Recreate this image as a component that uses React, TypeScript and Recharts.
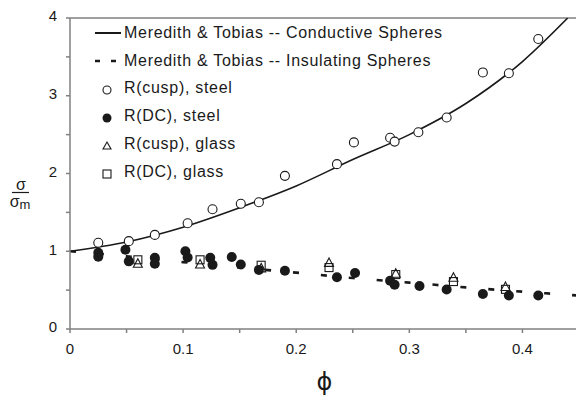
import { ComposedChart, Label, Legend, Line, ReferenceLine, Scatter, XAxis, YAxis } from "recharts"

// Meredith & Tobias curves
const FIT_PHI = [0, 0.05, 0.1, 0.15, 0.2, 0.25, 0.3, 0.35, 0.4, 0.44]
const CONDUCTIVE = [1.0, 1.12, 1.31, 1.56, 1.84, 2.18, 2.5, 2.9, 3.44, 4.0]
const INSULATING_PHI = [0, 0.05, 0.1, 0.15, 0.2, 0.25, 0.3, 0.35, 0.4, 0.45]
const INSULATING = [1.0, 0.935, 0.86, 0.79, 0.725, 0.655, 0.597, 0.535, 0.48, 0.43]

// measured points
const CUSP_STEEL_PHI = [0.025, 0.052, 0.075, 0.104, 0.126, 0.151, 0.167, 0.19, 0.236, 0.251, 0.283, 0.287, 0.308, 0.333, 0.365, 0.388, 0.414]
const CUSP_STEEL = [1.11, 1.13, 1.21, 1.36, 1.54, 1.61, 1.63, 1.97, 2.12, 2.4, 2.46, 2.41, 2.53, 2.72, 3.3, 3.29, 3.73]

const DC_STEEL_PHI = [0.025, 0.025, 0.049, 0.052, 0.075, 0.075, 0.102, 0.104, 0.124, 0.126, 0.143, 0.151, 0.167, 0.19, 0.236, 0.252, 0.283, 0.287, 0.309, 0.333, 0.365, 0.388, 0.414]
const DC_STEEL = [0.98, 0.93, 1.02, 0.87, 0.915, 0.84, 1.0, 0.92, 0.915, 0.825, 0.925, 0.83, 0.76, 0.75, 0.665, 0.72, 0.62, 0.57, 0.553, 0.508, 0.45, 0.43, 0.43]

const GLASS_PHI = [0.06, 0.115, 0.169, 0.229, 0.288, 0.339, 0.385]
const CUSP_GLASS = [0.84, 0.83, 0.78, 0.85, 0.71, 0.66, 0.54]
const DC_GLASS = [0.89, 0.89, 0.82, 0.79, 0.7, 0.61, 0.51]

const X_TICKS = [0, 0.05, 0.1, 0.15, 0.2, 0.25, 0.3, 0.35, 0.4, 0.45]
const Y_TICKS = [0, 0.5, 1, 1.5, 2, 2.5, 3, 3.5, 4]

const LEGEND_LABELS = [
    "Meredith & Tobias -- Conductive Spheres",
    "Meredith & Tobias -- Insulating Spheres",
    "R(cusp), steel",
    "R(DC), steel",
    "R(cusp), glass",
    "R(DC), glass",
]

const pairs = (xs: number[], ys: number[]) => xs.map((x, i) => ({ x, y: ys[i] }))

const FONT = "'Liberation Sans', Arial, sans-serif"
const INK = "#1a1a1a"
const AXIS = "#808080"

const OpenCircle = (p: any) => <circle cx={p.cx} cy={p.cy} r={4.5} fill="#fff" stroke={INK} strokeWidth={1.1} />
const FilledCircle = (p: any) => <circle cx={p.cx} cy={p.cy} r={5} fill={INK} />
const Triangle = (p: any) => (
    <path d={`M${p.cx},${p.cy - 5} L${p.cx + 4.5},${p.cy + 3.5} L${p.cx - 4.5},${p.cy + 3.5} Z`} fill="none" stroke={INK} strokeWidth={1.1} />
)
const Square = (p: any) => (
    <rect x={p.cx - 4} y={p.cy - 4} width={8} height={8} fill="none" stroke={INK} strokeWidth={1.1} />
)

const LegendIcon = ({ index }: { index: number }) => {
    switch (index) {
        case 0:
            return <line x1={0} y1={8} x2={26} y2={8} stroke={INK} strokeWidth={2} />
        case 1:
            return <line x1={0} y1={8} x2={26} y2={8} stroke={INK} strokeWidth={2.5} strokeDasharray="5 11" />
        case 2:
            return <circle cx={12} cy={10} r={4} fill="#fff" stroke={INK} strokeWidth={1.1} />
        case 3:
            return <circle cx={12} cy={10} r={4.5} fill={INK} />
        case 4:
            return <path d="M12,6 L16,13 L8,13 Z" fill="none" stroke={INK} strokeWidth={1.1} />
        default:
            return <rect x={8} y={6} width={8} height={8} fill="none" stroke={INK} strokeWidth={1.1} />
    }
}

const LegendBox = () => (
    <div style={{ fontFamily: FONT, fontSize: 16, letterSpacing: 0.7, color: INK }}>
        {LEGEND_LABELS.map((label, i) => (
            <div key={label} style={{ display: "flex", alignItems: "center", height: 27.8 }}>
                <svg width={29} height={16}>
                    <LegendIcon index={i} />
                </svg>
                <span style={{ whiteSpace: "nowrap" }}>{label}</span>
            </div>
        ))}
    </div>
)

const SigmaLabel = () => (
    <g fontFamily={FONT} fill={INK}>
        <text x={21} y={190} fontSize={16} textAnchor="middle">σ</text>
        <line x1={12} y1={192.5} x2={29} y2={192.5} stroke={INK} strokeWidth={1.2} />
        <text x={20} y={207} fontSize={16} textAnchor="middle">
            σ<tspan fontSize={13} dy={2}>m</tspan>
        </text>
    </g>
)

const fmtX = (v: number) => (Math.round(v * 100) % 10 === 0 ? String(Number(v.toFixed(1))) : "")
const fmtY = (v: number) => (Number.isInteger(v) ? String(v) : "")

export default function App() {
    return (
        <div style={{ position: "absolute", left: 0, top: 0, width: 576, height: 396, overflow: "hidden", background: "#fff" }}>
            <ComposedChart width={600} height={396} margin={{ top: 18, right: 21, left: 0, bottom: 0 }}>
                <XAxis
                    type="number"
                    dataKey="x"
                    domain={[0, 0.45]}
                    ticks={X_TICKS}
                    tickFormatter={fmtX}
                    allowDataOverflow
                    height={67}
                    tickSize={4}
                    tickMargin={10}
                    stroke={AXIS}
                    strokeWidth={1.5}
                    tick={{ fill: INK, fontSize: 15, fontFamily: FONT }}
                >
                    <Label value="ϕ" position="insideBottom" offset={6} style={{ fontSize: 24, fill: INK, fontFamily: "'DejaVu Sans', sans-serif" }} />
                </XAxis>
                <YAxis
                    type="number"
                    dataKey="y"
                    domain={[0, 4]}
                    ticks={Y_TICKS}
                    tickFormatter={fmtY}
                    allowDataOverflow
                    width={70}
                    tickSize={4}
                    tickMargin={9}
                    stroke={AXIS}
                    strokeWidth={1.5}
                    tick={{ fill: INK, fontSize: 15, fontFamily: FONT, dy: -2 }}
                >
                    <Label content={<SigmaLabel />} />
                </YAxis>
                <ReferenceLine y={4} stroke={AXIS} strokeWidth={1.5} />
                <Line
                    data={pairs(FIT_PHI, CONDUCTIVE)}
                    dataKey="y"
                    type="monotone"
                    stroke={INK}
                    strokeWidth={1.6}
                    dot={false}
                    activeDot={false}
                    isAnimationActive={false}
                />
                <Line
                    data={pairs(INSULATING_PHI, INSULATING)}
                    dataKey="y"
                    type="monotone"
                    stroke={INK}
                    strokeWidth={2.6}
                    strokeDasharray="6 22"
                    dot={false}
                    activeDot={false}
                    isAnimationActive={false}
                />
                <Scatter data={pairs(CUSP_STEEL_PHI, CUSP_STEEL)} shape={OpenCircle} isAnimationActive={false} />
                <Scatter data={pairs(DC_STEEL_PHI, DC_STEEL)} shape={FilledCircle} isAnimationActive={false} />
                <Scatter data={pairs(GLASS_PHI, CUSP_GLASS)} shape={Triangle} isAnimationActive={false} />
                <Scatter data={pairs(GLASS_PHI, DC_GLASS)} shape={Square} isAnimationActive={false} />
                <Legend
                    layout="vertical"
                    align="center"
                    verticalAlign="middle"
                    content={<LegendBox />}
                    wrapperStyle={{ left: 95, top: 19, width: 420 }}
                />
            </ComposedChart>
        </div>
    )
}
